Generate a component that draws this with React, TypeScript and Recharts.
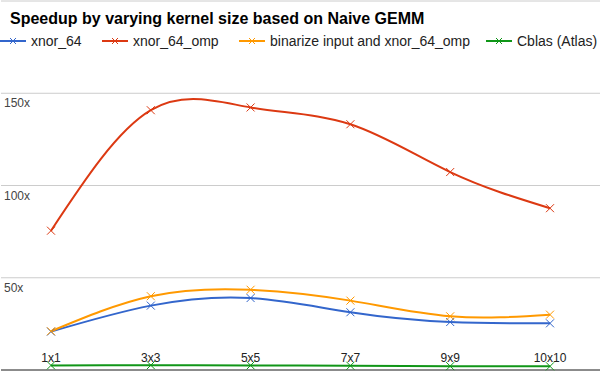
import { LineChart, Line, CartesianGrid, XAxis, YAxis } from 'recharts';

const kernels = ['1x1', '3x3', '5x5', '7x7', '9x9', '10x10'];
const xnor64 = [20.8, 34.9, 39.0, 31.3, 26.0, 25.3];
const xnor64Omp = [75.5, 140.8, 142.3, 133.2, 107.3, 87.7];
const binarizeOmp = [21.0, 40.0, 43.5, 37.6, 29.1, 30.0];
const cblas = [2.5, 2.6, 2.5, 2.3, 2.1, 2.0];
const yTicks = [0, 50, 100, 150, 200];

const series = [
  { key: 'xnor64', name: 'xnor_64', color: '#3366cc', legendX: 0 },
  { key: 'xnor64Omp', name: 'xnor_64_omp', color: '#dc3912', legendX: 102 },
  { key: 'binarizeOmp', name: 'binarize input and xnor_64_omp', color: '#ff9900', legendX: 239 },
  { key: 'cblas', name: 'Cblas (Atlas)', color: '#109618', legendX: 486 },
];

const data = kernels.map((k, i) => ({
  kernel: k,
  xnor64: xnor64[i],
  xnor64Omp: xnor64Omp[i],
  binarizeOmp: binarizeOmp[i],
  cblas: cblas[i],
}));

const font = 'Arial, "Liberation Sans", sans-serif';

const XDot = (color: string) => (props: any) => {
  const { cx, cy } = props;
  if (cx == null || cy == null) return null;
  const s = 4;
  return (
    <path
      key={`${cx}-${cy}`}
      d={`M${cx - s},${cy - s}L${cx + s},${cy + s}M${cx - s},${cy + s}L${cx + s},${cy - s}`}
      stroke={color}
      strokeWidth={1}
      fill="none"
    />
  );
};

const YTick = (props: any) => {
  const { y, payload } = props;
  if (payload.value === 0 || payload.value === 200) return null;
  return (
    <text x={4} y={y + 14} fontSize={12} fill="#444" fontFamily={font}>
      {payload.value}x
    </text>
  );
};

const XTick = (props: any) => {
  const { x, payload } = props;
  return (
    <text x={x} y={362} fontSize={12} fill="#222" textAnchor="middle" fontFamily={font}>
      {payload.value}
    </text>
  );
};

const LegendRow = () => (
  <div style={{ position: 'relative', height: 16, fontFamily: font, fontSize: 14, color: '#222' }}>
    {series.map((s) => (
      <div
        key={s.key}
        style={{ position: 'absolute', left: s.legendX, top: 0, display: 'flex', alignItems: 'center', gap: 5, whiteSpace: 'nowrap' }}
      >
        <svg width={26} height={10}>
          <line x1={0} y1={5} x2={26} y2={5} stroke={s.color} strokeWidth={2} />
          <path d="M10,2L16,8M10,8L16,2" stroke={s.color} strokeWidth={1} />
        </svg>
        <span>{s.name}</span>
      </div>
    ))}
  </div>
);

export default function App() {
  return (
    <div style={{ position: 'absolute', left: 0, top: 0, width: 600, height: 371, background: '#fff', overflow: 'hidden' }}>
      <LineChart width={600} height={371} data={data} margin={{ top: 1, right: 0, left: 0, bottom: 0 }}>
        <CartesianGrid vertical={false} stroke="#cccccc" />
        <XAxis
          dataKey="kernel"
          height={1}
          padding={{ left: 50, right: 50 }}
          axisLine={{ stroke: '#333', strokeWidth: 1 }}
          tickLine={false}
          tick={<XTick />}
          interval={0}
        />
        <YAxis
          width={1}
          domain={[0, 200]}
          ticks={yTicks}
          interval={0}
          axisLine={false}
          tickLine={false}
          tick={<YTick />}
        />
        {series.map((s) => (
          <Line
            key={s.key}
            type="natural"
            dataKey={s.key}
            name={s.name}
            stroke={s.color}
            strokeWidth={2}
            dot={XDot(s.color)}
            activeDot={false}
            isAnimationActive={false}
          />
        ))}
      </LineChart>
      <div
        style={{
          position: 'absolute',
          left: 10,
          top: 10,
          fontFamily: font,
          fontWeight: 'bold',
          fontSize: 16,
          color: '#000',
        }}
      >
        Speedup by varying kernel size based on Naive GEMM
      </div>
      <div style={{ position: 'absolute', left: 0, top: 33, width: 600 }}>
        <LegendRow />
      </div>
    </div>
  );
}
